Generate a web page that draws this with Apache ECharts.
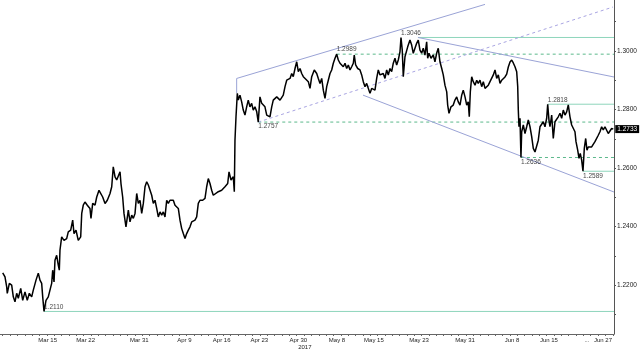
<!DOCTYPE html>
<html><head><meta charset="utf-8">
<script src="https://cdn.jsdelivr.net/npm/echarts@6/dist/echarts.min.js"></script>
<style>html,body{margin:0;padding:0;background:#fff}#c{width:642px;height:355px}</style>
</head><body><div id="c"></div>
<script>
// x unit = trading day from left edge of the chart
const days = [0.37,0.68,0.91,0.99,1.27,1.59,1.81,2.04,2.27,2.49,2.82,3.09,3.40,3.71,3.99,4.31,4.53,4.90,5.21,5.44,5.67,5.81,5.99,6.26,6.57,6.80,7.03,7.17,7.35,7.48,7.71,7.93,8.07,8.16,8.39,8.71,9.07,9.29,9.62,9.89,10.07,10.34,10.65,10.98,11.12,11.33,11.56,11.88,12.24,12.38,12.61,12.93,13.16,13.47,
13.97,14.29,14.60,14.97,15.20,15.41,15.65,15.88,16.10,16.33,16.46,16.69,16.87,17.14,17.46,17.69,17.92,18.14,18.37,18.60,18.82,19.05,19.28,19.50,19.73,19.96,20.18,20.41,20.64,20.86,21.09,21.32,21.54,21.77,22.00,22.22,22.45,22.68,22.90,23.13,23.36,23.58,23.81,24.04,24.26,24.49,24.72,24.94,25.17,25.40,25.62,25.85,26.08,26.30,26.53,26.76,26.98,27.21,27.58,27.89,28.12,28.34,28.57,28.80,29.02,
29.25,29.70,30.16,30.61,30.98,31.16,31.43,31.74,31.88,31.97,32.11,32.29,32.42,32.65,32.88,33.10,33.33,33.56,33.78,34.01,34.24,34.46,34.69,34.93,35.14,35.37,35.61,35.82,36.05,36.29,36.50,36.73,36.97,37.18,37.41,37.65,37.86,38.10,38.33,38.54,38.78,39.01,39.22,39.46,39.69,39.90,40.14,40.37,40.59,40.82,41.05,41.27,
41.50,41.95,42.18,42.41,42.76,43.09,43.31,43.54,43.77,43.99,44.22,44.45,44.67,44.90,45.13,45.35,45.58,45.81,46.03,46.26,46.49,46.71,46.94,47.17,47.39,47.62,47.85,48.07,48.20,48.39,48.67,48.98,49.21,49.43,49.66,49.89,50.11,50.34,50.57,50.79,51.02,51.25,51.47,51.70,51.93,52.15,52.38,52.61,52.83,53.06,53.29,53.51,53.74,53.97,54.19,54.42,54.56,54.73,54.87,55.10,
55.47,55.78,56.01,56.23,56.46,56.69,56.91,57.14,57.37,57.59,57.82,58.05,58.19,58.37,58.64,58.95,59.18,59.41,59.63,59.86,60.10,60.31,60.54,60.78,60.91,61.09,61.36,61.67,61.90,62.14,62.35,62.59,62.82,63.03,63.27,63.50,63.71,63.85,63.99,64.18,64.39,64.63,64.86,65.07,65.31,65.54,65.76,65.99,66.22,66.44,66.67,66.90,67.12,67.35,67.58,67.80,68.03,68.26,68.48,
68.71,68.94,69.16,69.39,69.62,69.84,70.07,70.30,70.44,70.52,70.61,70.75,70.88,70.98,71.20,71.43,71.66,71.88,72.11,72.34,72.56,72.79,73.02,73.24,73.47,73.70,73.92,74.15,74.38,74.52,74.69,74.83,75.06,75.28,75.51,75.74,75.96,76.19,76.42,76.64,76.87,77.10,77.32,77.55,77.78,78.00,78.23,78.37,78.60,78.78,78.95,79.14,79.32,79.50,79.69,79.86,80.04,80.27,80.50,80.72,80.95,81.18,81.40,81.63,81.86,82.08,82.31,82.54,82.76,82.99,83.22,83.44];

const rates = [1.2242,1.2228,1.2194,1.2172,1.2206,1.2200,1.2160,1.2143,1.2172,1.2155,1.2189,1.2148,1.2177,1.2148,1.2172,1.2160,1.2183,1.2217,1.2241,1.2217,1.2206,1.2160,1.2110,1.2148,1.2160,1.2183,1.2206,1.2251,1.2211,1.2285,1.2302,1.2268,1.2251,1.2319,1.2365,1.2353,1.2359,1.2382,1.2388,1.2422,1.2376,1.2388,1.2353,1.2365,1.2445,1.2473,1.2484,1.2473,1.2462,1.2428,1.2479,1.2473,1.2501,1.2524,
1.2501,1.2479,1.2490,1.2513,1.2536,1.2604,1.2570,1.2559,1.2564,1.2587,1.2547,1.2501,1.2445,1.2399,1.2456,1.2416,1.2439,1.2428,1.2445,1.2513,1.2479,1.2490,1.2445,1.2479,1.2536,1.2553,1.2542,1.2536,1.2507,1.2479,1.2490,1.2462,1.2433,1.2450,1.2439,1.2450,1.2433,1.2490,1.2479,1.2490,1.2484,1.2490,1.2473,1.2473,1.2462,1.2422,1.2393,1.2376,1.2359,1.2376,1.2388,1.2399,1.2416,1.2416,1.2422,1.2433,1.2479,1.2490,1.2490,1.2496,1.2536,1.2564,1.2547,1.2524,1.2507,
1.2507,1.2519,1.2524,1.2536,1.2547,1.2587,1.2559,1.2570,1.2519,1.2695,1.2775,1.2855,1.2832,1.2849,1.2826,1.2798,1.2781,1.2809,1.2832,1.2809,1.2821,1.2798,1.2809,1.2792,1.2757,1.2843,1.2821,1.2826,1.2809,1.2781,1.2787,1.2775,1.2809,1.2832,1.2826,1.2843,1.2849,1.2832,1.2826,1.2849,1.2878,1.2900,1.2895,1.2906,1.2923,1.2912,1.2940,1.2963,1.2929,1.2940,1.2923,1.2912,
1.2911,1.2895,1.2872,1.2912,1.2935,1.2923,1.2906,1.2889,1.2906,1.2866,1.2838,1.2878,1.2900,1.2923,1.2935,1.2958,1.2975,1.2989,1.2969,1.2958,1.2963,1.2946,1.2958,1.2940,1.2952,1.2935,1.2946,1.2958,1.2986,1.2952,1.2940,1.2935,1.2918,1.2895,1.2878,1.2889,1.2883,1.2855,1.2872,1.2878,1.2866,1.2906,1.2935,1.2918,1.2912,1.2923,1.2906,1.2935,1.2918,1.2940,1.2929,1.2958,1.2975,1.2952,1.2969,1.2997,1.3046,1.3003,1.2912,1.2980,
1.3014,1.3037,1.3020,1.2992,1.3009,1.3026,1.3037,1.3003,1.2992,1.3009,1.2986,1.3031,1.2975,1.2992,1.2975,1.2986,1.2963,1.2992,1.3009,1.2963,1.2940,1.2918,1.2883,1.2860,1.2815,1.2787,1.2809,1.2815,1.2832,1.2843,1.2826,1.2815,1.2849,1.2866,1.2843,1.2815,1.2826,1.2775,1.2860,1.2912,1.2895,1.2883,1.2900,1.2889,1.2900,1.2878,1.2895,1.2872,1.2866,1.2883,1.2895,1.2889,1.2918,1.2935,1.2906,1.2918,1.2889,1.2900,1.2906,
1.2911,1.2921,1.2945,1.2962,1.2969,1.2959,1.2946,1.2929,1.2878,1.2798,1.2741,1.2770,1.2636,1.2724,1.2747,1.2718,1.2741,1.2764,1.2741,1.2707,1.2667,1.2655,1.2650,1.2695,1.2741,1.2747,1.2758,1.2741,1.2770,1.2818,1.2764,1.2741,1.2781,1.2701,1.2758,1.2764,1.2775,1.2787,1.2770,1.2798,1.2781,1.2792,1.2816,1.2775,1.2747,1.2741,1.2724,1.2690,1.2661,1.2633,1.2650,1.2627,1.2589,1.2667,1.2701,1.2661,1.2672,1.2667,1.2672,1.2667,1.2690,1.2695,1.2712,1.2724,1.2741,1.2730,1.2741,1.2735,1.2718,1.2724,1.2735,1.2733];

const xLabelDays = [6.49,11.66,18.95,25.08,30.16,35.28,40.59,45.85,50.88,57.01,63.27,69.66,74.69,79.86,82.04];
const xLabels = ['Mar 15','Mar 22','Mar 31','Apr 9','Apr 16','Apr 23','Apr 30','May 8','May 15','May 23','May 31','Jun 8','Jun 15','...','Jun 27'];
const yLabelValues = [1.22,1.24,1.26,1.28,1.30];
const yTickValues = [1.21,1.22,1.23,1.24,1.25,1.26,1.27,1.28,1.29,1.30,1.31];

// horizontal support / resistance levels
const levelValues    = [1.3046,1.2989,1.2818,1.2757,1.2636,1.2589,1.2110];
const levelStartDays = [56.87,45.81,74.52,35.14,70.88,79.32,5.99];
const levelDashed    = [false,true,false,true,true,false,false];
const levelLabelDays = [54.56,45.81,74.52,35.14,70.88,79.32,5.99];
const levelLabelPos  = ['top','top','top','bottom','bottom','bottom','top'];

// trend lines
const trendUpDays = [32.2,32.2,65.99];        const trendUpRates = [1.2856,1.2906,1.3159];
const trendUpDashDays = [35.14,83.4];          const trendUpDashRates = [1.2757,1.3150];
const trendDownTopDays = [56.87,83.54];        const trendDownTopRates = [1.3046,1.2911];
const trendDownBotDays = [49.39,83.54];        const trendDownBotRates = [1.2849,1.2518];

const xMin = 0, xMax = 83.54, yMin = 1.2033, yMax = 1.3174;
const FONT = 'Liberation Sans';
const tealC = '#8ed5bc', greenC = '#5cb98c', lavC = '#9aa3d6', lavDashC = '#a9a5e2';

const xTickValues = [];
for (let k = 0; k <= 83; k++) xTickValues.push(+(0.37 + k).toFixed(2));

const zip = (a, b) => a.map((v, i) => [v, b[i]]);
const series = [];

levelValues.forEach((v, i) => {
  series.push({
    type: 'line', silent: true, symbol: 'none', animation: false, z: 2,
    data: [[levelStartDays[i], v], [xMax, v]],
    lineStyle: { color: levelDashed[i] ? greenC : tealC, width: 1, type: levelDashed[i] ? [3, 3] : 'solid' }
  });
});

[[trendUpDays, trendUpRates, lavC, 'solid'],
 [trendUpDashDays, trendUpDashRates, lavDashC, [3, 3]],
 [trendDownTopDays, trendDownTopRates, lavC, 'solid'],
 [trendDownBotDays, trendDownBotRates, lavC, 'solid']].forEach(t => {
  series.push({
    type: 'line', silent: true, symbol: 'none', animation: false, z: 2,
    data: zip(t[0], t[1]),
    lineStyle: { color: t[2], width: 1, type: t[3] }
  });
});

series.push({
  type: 'line', symbol: 'none', animation: false, z: 5,
  data: zip(days, rates),
  lineStyle: { color: '#000', width: 1.5 },
  endLabel: {
    show: true, distance: 2,
    formatter: p => p.value[1].toFixed(4),
    color: '#fff', backgroundColor: '#000', padding: [1, 2, 0, 2],
    fontFamily: FONT, fontSize: 6.5
  }
});

series.push({
  type: 'scatter', silent: true, symbolSize: 0, animation: false, z: 6,
  data: levelValues.map((v, i) => ({
    value: [levelLabelDays[i], v],
    label: { position: levelLabelPos[i] }
  })),
  label: {
    show: true, align: 'left', distance: 1,
    formatter: p => p.value[1].toFixed(4),
    color: '#111', fontFamily: FONT, fontSize: 6.5
  }
});

const chart = echarts.init(document.getElementById('c'), null, { renderer: 'canvas' });
chart.setOption({
  backgroundColor: '#fff',
  animation: false,
  grid: { left: 0, right: 28, top: 0, bottom: 21, containLabel: false },
  xAxis: {
    type: 'value', min: xMin, max: xMax,
    axisLine: { show: true, onZero: false, lineStyle: { color: '#666', width: 1 } },
    axisTick: { show: true, length: 2, customValues: xTickValues, lineStyle: { color: '#666' } },
    splitLine: { show: false },
    axisLabel: {
      customValues: xLabelDays, margin: 3,
      color: '#222', fontFamily: FONT, fontSize: 6,
      formatter: v => {
        let best = 0;
        xLabelDays.forEach((d, i) => { if (Math.abs(d - v) < Math.abs(xLabelDays[best] - v)) best = i; });
        const t = xLabels[best];
        return t === 'Apr 30' ? '{a|Apr 30}\n{b|2017}' : t;
      },
      rich: {
        a: { fontFamily: FONT, fontSize: 6, color: '#222', lineHeight: 7 },
        b: { fontFamily: FONT, fontSize: 6, color: '#222', lineHeight: 7, padding: [0, 0, 0, 13] }
      }
    }
  },
  yAxis: {
    type: 'value', position: 'right', min: yMin, max: yMax,
    axisLine: { show: true, onZero: false, lineStyle: { color: '#555', width: 1 } },
    axisTick: { show: true, length: 2, inside: false, customValues: yTickValues, lineStyle: { color: '#555' } },
    splitLine: { show: false },
    axisLabel: {
      customValues: yLabelValues, margin: 3,
      color: '#222', fontFamily: FONT, fontSize: 6.5,
      formatter: v => v.toFixed(4)
    }
  },
  series: series
});
</script>
</body></html>
